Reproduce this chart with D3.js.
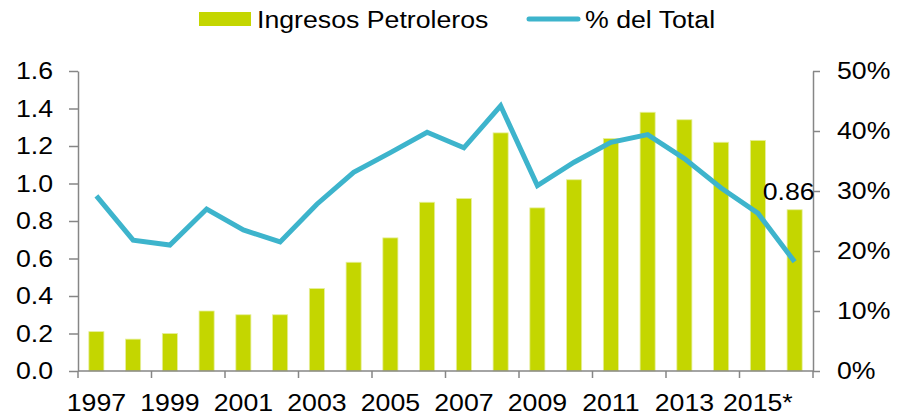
<!DOCTYPE html>
<html>
<head>
<meta charset="utf-8">
<script src="https://cdn.jsdelivr.net/npm/d3@7"></script>
<style>
  body { margin: 0; background: #fff; }
  svg { display: block; font-family: "Liberation Sans", Arial, sans-serif; }
  .axis path, .axis line { stroke: #868686; stroke-width: 1.5; }
  .axis text { font-size: 24.5px; fill: #000; }
</style>
</head>
<body>
<svg></svg>
<script>
const WIDTH = 906;
const HEIGHT = 417;

const years = ["1997", "1998", "1999", "2000", "2001", "2002", "2003", "2004", "2005", "2006",
  "2007", "2008", "2009", "2010", "2011", "2012", "2013", "2014", "2015", "2016"];
const yearLabels = ["1997", "1999", "2001", "2003", "2005", "2007", "2009", "2011", "2013", "2015*"];
const ingresos = [0.21, 0.17, 0.20, 0.32, 0.30, 0.30, 0.44, 0.58, 0.71, 0.90,
  0.92, 1.27, 0.87, 1.02, 1.24, 1.38, 1.34, 1.22, 1.23, 0.86];
const pctTotal = [29.2, 21.8, 21.0, 27.0, 23.5, 21.5, 27.8, 33.1, 36.4, 39.8,
  37.2, 44.2, 30.9, 34.8, 38.1, 39.4, 35.4, 30.5, 26.3, 18.2];
const leftTicks = [0, 0.2, 0.4, 0.6, 0.8, 1.0, 1.2, 1.4, 1.6];
const rightTicks = [0, 10, 20, 30, 40, 50];

const plotLeft = 78, plotRight = 813, plotTop = 71, plotBottom = 371;
const barColor = "#c4d600";
const lineColor = "#3db4cc";
const SX = 1.09; // text in the original is a bit wider than Arial

var svg = d3.select("svg").attr("width", WIDTH).attr("height", HEIGHT);

var x = d3.scaleBand().domain(years).range([plotLeft, plotRight])
  .paddingInner(0.59).paddingOuter(0.295);
var yL = d3.scaleLinear().domain([0, 1.6]).range([plotBottom, plotTop]);
var yR = d3.scaleLinear().domain([0, 50]).range([plotBottom, plotTop]);
var gap = (x.step() - x.bandwidth()) / 2;

// bars
svg.append("g").selectAll("rect")
  .data(ingresos)
  .enter()
  .append("rect")
  .attr("x", (d, i) => x(years[i]))
  .attr("y", d => yL(d))
  .attr("width", x.bandwidth())
  .attr("height", d => yL(0) - yL(d))
  .attr("fill", barColor)
  .attr("stroke", "#e6ef9c")
  .attr("stroke-width", 0.8);

// line
var line = d3.line()
  .x((d, i) => x(years[i]) + x.bandwidth() / 2)
  .y(d => yR(d));

svg.append("path")
  .datum(pctTotal)
  .attr("d", line)
  .attr("fill", "none")
  .attr("stroke", lineColor)
  .attr("stroke-width", 5);

// left axis
svg.append("g")
  .attr("class", "axis")
  .attr("transform", "translate(" + plotLeft + ",0)")
  .call(d3.axisLeft(yL).tickValues(leftTicks).tickFormat(d3.format(".1f"))
    .tickSize(9).tickSizeOuter(0).tickPadding(25 / SX - 9))
  .selectAll("text").attr("transform", "scale(" + SX + ",1)");

// right axis
svg.append("g")
  .attr("class", "axis")
  .attr("transform", "translate(" + plotRight + ",0)")
  .call(d3.axisRight(yR).tickValues(rightTicks).tickFormat(d => d + "%")
    .tickSize(7).tickSizeOuter(0).tickPadding(24 / SX - 7))
  .selectAll("text").attr("transform", "scale(" + SX + ",1)");

// bottom axis
var labelled = years.filter((d, i) => i % 2 == 0);
var xAxis = svg.append("g")
  .attr("class", "axis")
  .attr("transform", "translate(0," + plotBottom + ")")
  .call(d3.axisBottom(x).tickValues(labelled)
    .tickFormat((d, i) => yearLabels[i]).tickSize(0).tickSizeOuter(0).tickPadding(22.5));
xAxis.select(".domain").attr("d", "M" + plotLeft + ",0H" + plotRight);
xAxis.selectAll(".tick text").attr("transform", "scale(" + SX + ",1)");

var bounds = labelled.map(d => x(d) - gap).concat([plotRight]);
xAxis.selectAll(".bound")
  .data(bounds)
  .enter()
  .append("line")
  .attr("class", "bound")
  .attr("x1", d => d).attr("x2", d => d)
  .attr("y1", 0).attr("y2", 7);

function stretchedText(g, px, py, s) {
  return g.append("text")
    .attr("transform", "translate(" + px + "," + py + ") scale(" + SX + ",1)")
    .attr("font-size", 24.5)
    .text(s);
}

// data label on last bar
var last = years.length - 1;
stretchedText(svg, x(years[last]) + x.bandwidth() / 2 - 6, yL(ingresos[last]) - 10,
  ingresos[last].toFixed(2))
  .attr("text-anchor", "middle");

// legend
var legend = svg.append("g");
legend.append("rect")
  .attr("x", 199).attr("y", 12).attr("width", 52).attr("height", 14)
  .attr("fill", barColor);
stretchedText(legend, 257, 28, "Ingresos Petroleros");
legend.append("line")
  .attr("x1", 529).attr("x2", 578).attr("y1", 19).attr("y2", 19)
  .attr("stroke", lineColor).attr("stroke-width", 5).attr("stroke-linecap", "round");
stretchedText(legend, 585, 28, "% del Total");
</script>
</body>
</html>
